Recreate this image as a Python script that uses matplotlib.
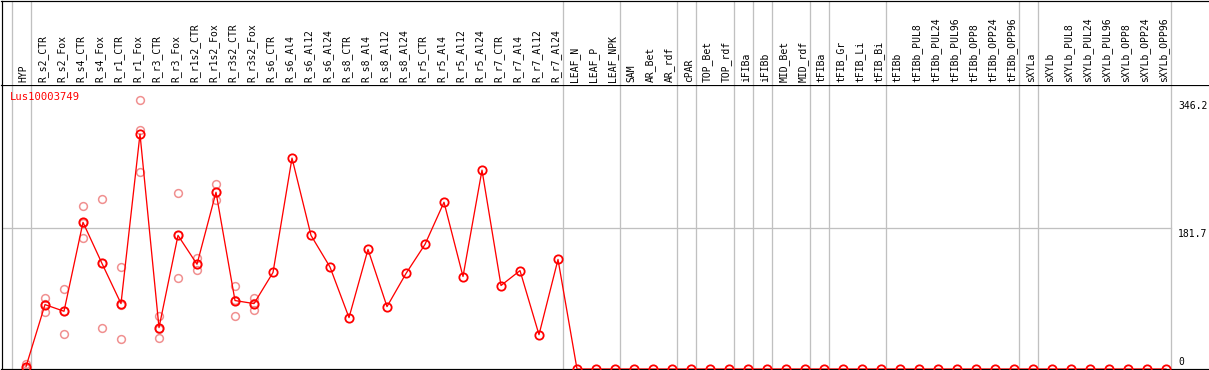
import matplotlib
matplotlib.use("Agg")
import matplotlib.pyplot as plt
import matplotlib.transforms as mtransforms

gene_id = "Lus10003749"

samples = [
    "HYP",
    "R_s2_CTR", "R_s2_Fox", "R_s4_CTR", "R_s4_Fox", "R_r1_CTR", "R_r1_Fox",
    "R_r3_CTR", "R_r3_Fox", "R_r1s2_CTR", "R_r1s2_Fox", "R_r3s2_CTR", "R_r3s2_Fox",
    "R_s6_CTR", "R_s6_Al4", "R_s6_Al12", "R_s6_Al24",
    "R_s8_CTR", "R_s8_Al4", "R_s8_Al12", "R_s8_Al24",
    "R_r5_CTR", "R_r5_Al4", "R_r5_Al12", "R_r5_Al24",
    "R_r7_CTR", "R_r7_Al4", "R_r7_Al12", "R_r7_Al24",
    "LEAF_N", "LEAF_P", "LEAF_NPK",
    "SAM", "AR_Bet", "AR_rdf", "cPAR", "TOP_Bet", "TOP_rdf",
    "iFIBa", "iFIBb", "MID_Bet", "MID_rdf",
    "tFIBa", "tFIB_Gr", "tFIB_Li", "tFIB_Bi",
    "tFIBb", "tFIBb_PUL8", "tFIBb_PUL24", "tFIBb_PUL96",
    "tFIBb_OPP8", "tFIBb_OPP24", "tFIBb_OPP96",
    "sXYLa", "sXYLb", "sXYLb_PUL8", "sXYLb_PUL24", "sXYLb_PUL96",
    "sXYLb_OPP8", "sXYLb_OPP24", "sXYLb_OPP96",
]

# group sizes (separators drawn between groups)
group_sizes = [1, 28, 3, 3, 1, 2, 1, 1, 2, 1, 3, 7, 1, 7]

mean_values = [
    3.0,
    83.0, 74.4, 189.0, 136.0, 84.3, 302.8,
    53.3, 172.2, 135.0, 227.8, 88.2, 84.3,
    124.4, 271.8, 172.2, 131.4,
    66.2, 154.1, 80.4, 123.1,
    160.6, 214.9, 119.2, 256.3,
    107.6, 126.8, 44.2, 141.2,
] + [0.0] * 32

replicate_samples = [
    "HYP", "R_s2_CTR", "R_s2_Fox", "R_s4_CTR", "R_s4_Fox", "R_r1_CTR", "R_r1_Fox",
    "R_r3_CTR", "R_r3_Fox", "R_r1s2_CTR", "R_r1s2_Fox", "R_r3s2_CTR", "R_r3s2_Fox",
]
replicate_values = [
    [6.5, 1.5, 1.0],
    [92.0, 73.5, 83.5],
    [103.0, 45.5, 74.7],
    [209.7, 169.2, 188.0],
    [218.8, 53.3, 136.0],
    [130.9, 39.0, 83.0],
    [346.2, 254.5, 307.7],
    [67.9, 40.3, 51.7],
    [226.5, 117.9, 172.2],
    [143.3, 127.0, 135.0],
    [238.2, 217.9, 227.8],
    [106.7, 68.8, 89.0],
    [91.2, 76.6, 85.0],
]

ref_lines = [181.7]
right_labels = [("346.2", 346.2), ("181.7", 181.7), ("0", 0.0)]

W, H = 1209, 370
fig = plt.figure(figsize=(W / 100, H / 100), dpi=100)
fig.patch.set_facecolor("white")

mono = "DejaVu Sans Mono"
fs = 7.0
grid_c = "#c0c0c0"
px = 0.72  # one pixel in points

xmin = (1.5 - 26) / 19.0
xmax = (W - 26) / 19.0

header_h = 85
plot_bottom = 369
ax = fig.add_axes([1.5 / W, (H - plot_bottom) / H, (W - 1.5) / W, (plot_bottom - header_h) / H])
hax = fig.add_axes([1.5 / W, (H - header_h) / H, (W - 1.5) / W, (header_h - 0.5) / H])

for a in (ax, hax):
    a.set_xlim(xmin, xmax)
    a.set_xticks([])
    a.set_yticks([])
    a.spines["right"].set_visible(False)
    for s in ("left", "top", "bottom"):
        a.spines[s].set_linewidth(px * 1.2)
        a.spines[s].set_color("black")
hax.spines["bottom"].set_visible(False)
hax.set_ylim(0, 1)
ax.set_ylim(0, 366.0)

# group separators
pos = 0
seps = [pos - 0.75]
for g in group_sizes:
    pos += g
    seps.append(pos - 0.75)
for s in seps:
    ax.axvline(s, color=grid_c, lw=px * 1.3, zorder=0)
    hax.axvline(s, color=grid_c, lw=px * 1.3, zorder=0)

# horizontal reference line
for r in ref_lines:
    ax.plot([xmin, seps[-1]], [r, r], color=grid_c, lw=px * 1.3, zorder=0)

# header labels
for i, name in enumerate(samples):
    hax.text(i - 0.12, 0.03, name, rotation=90, ha="center", va="bottom",
             fontsize=fs, family=mono, color="black")

xs = list(range(len(samples)))

# replicates
for name, vals in zip(replicate_samples, replicate_values):
    i = samples.index(name)
    ax.plot([i] * len(vals), vals, linestyle="none", marker="o", markersize=5.6,
            mfc="none", mec="#f09090", mew=1.1, zorder=2)

# mean line
ax.plot(xs, mean_values, color="red", lw=px * 1.3, marker="o", markersize=6.0,
        mfc="none", mec="red", mew=1.3, zorder=3)

# title
ax.text(10 / W * 0 + (10 - 1.5) / (W - 1.5), 1 - 12 / (plot_bottom - header_h), gene_id,
        transform=ax.transAxes, ha="left", va="center", fontsize=fs + 0.6,
        family=mono, color="red")

# right labels
trans = mtransforms.blended_transform_factory(ax.transAxes, ax.transData)
xlab = (1178 - 1.5) / (W - 1.5)
for lab, v in right_labels:
    off = -6 if v > 0 else 7
    ax.annotate(lab, xy=(xlab, v), xycoords=trans, xytext=(0, off * 0.72),
                textcoords="offset points", ha="left", va="center",
                fontsize=fs, family=mono, color="black", annotation_clip=False)

fig.savefig("out.png", dpi=100, facecolor="white")
